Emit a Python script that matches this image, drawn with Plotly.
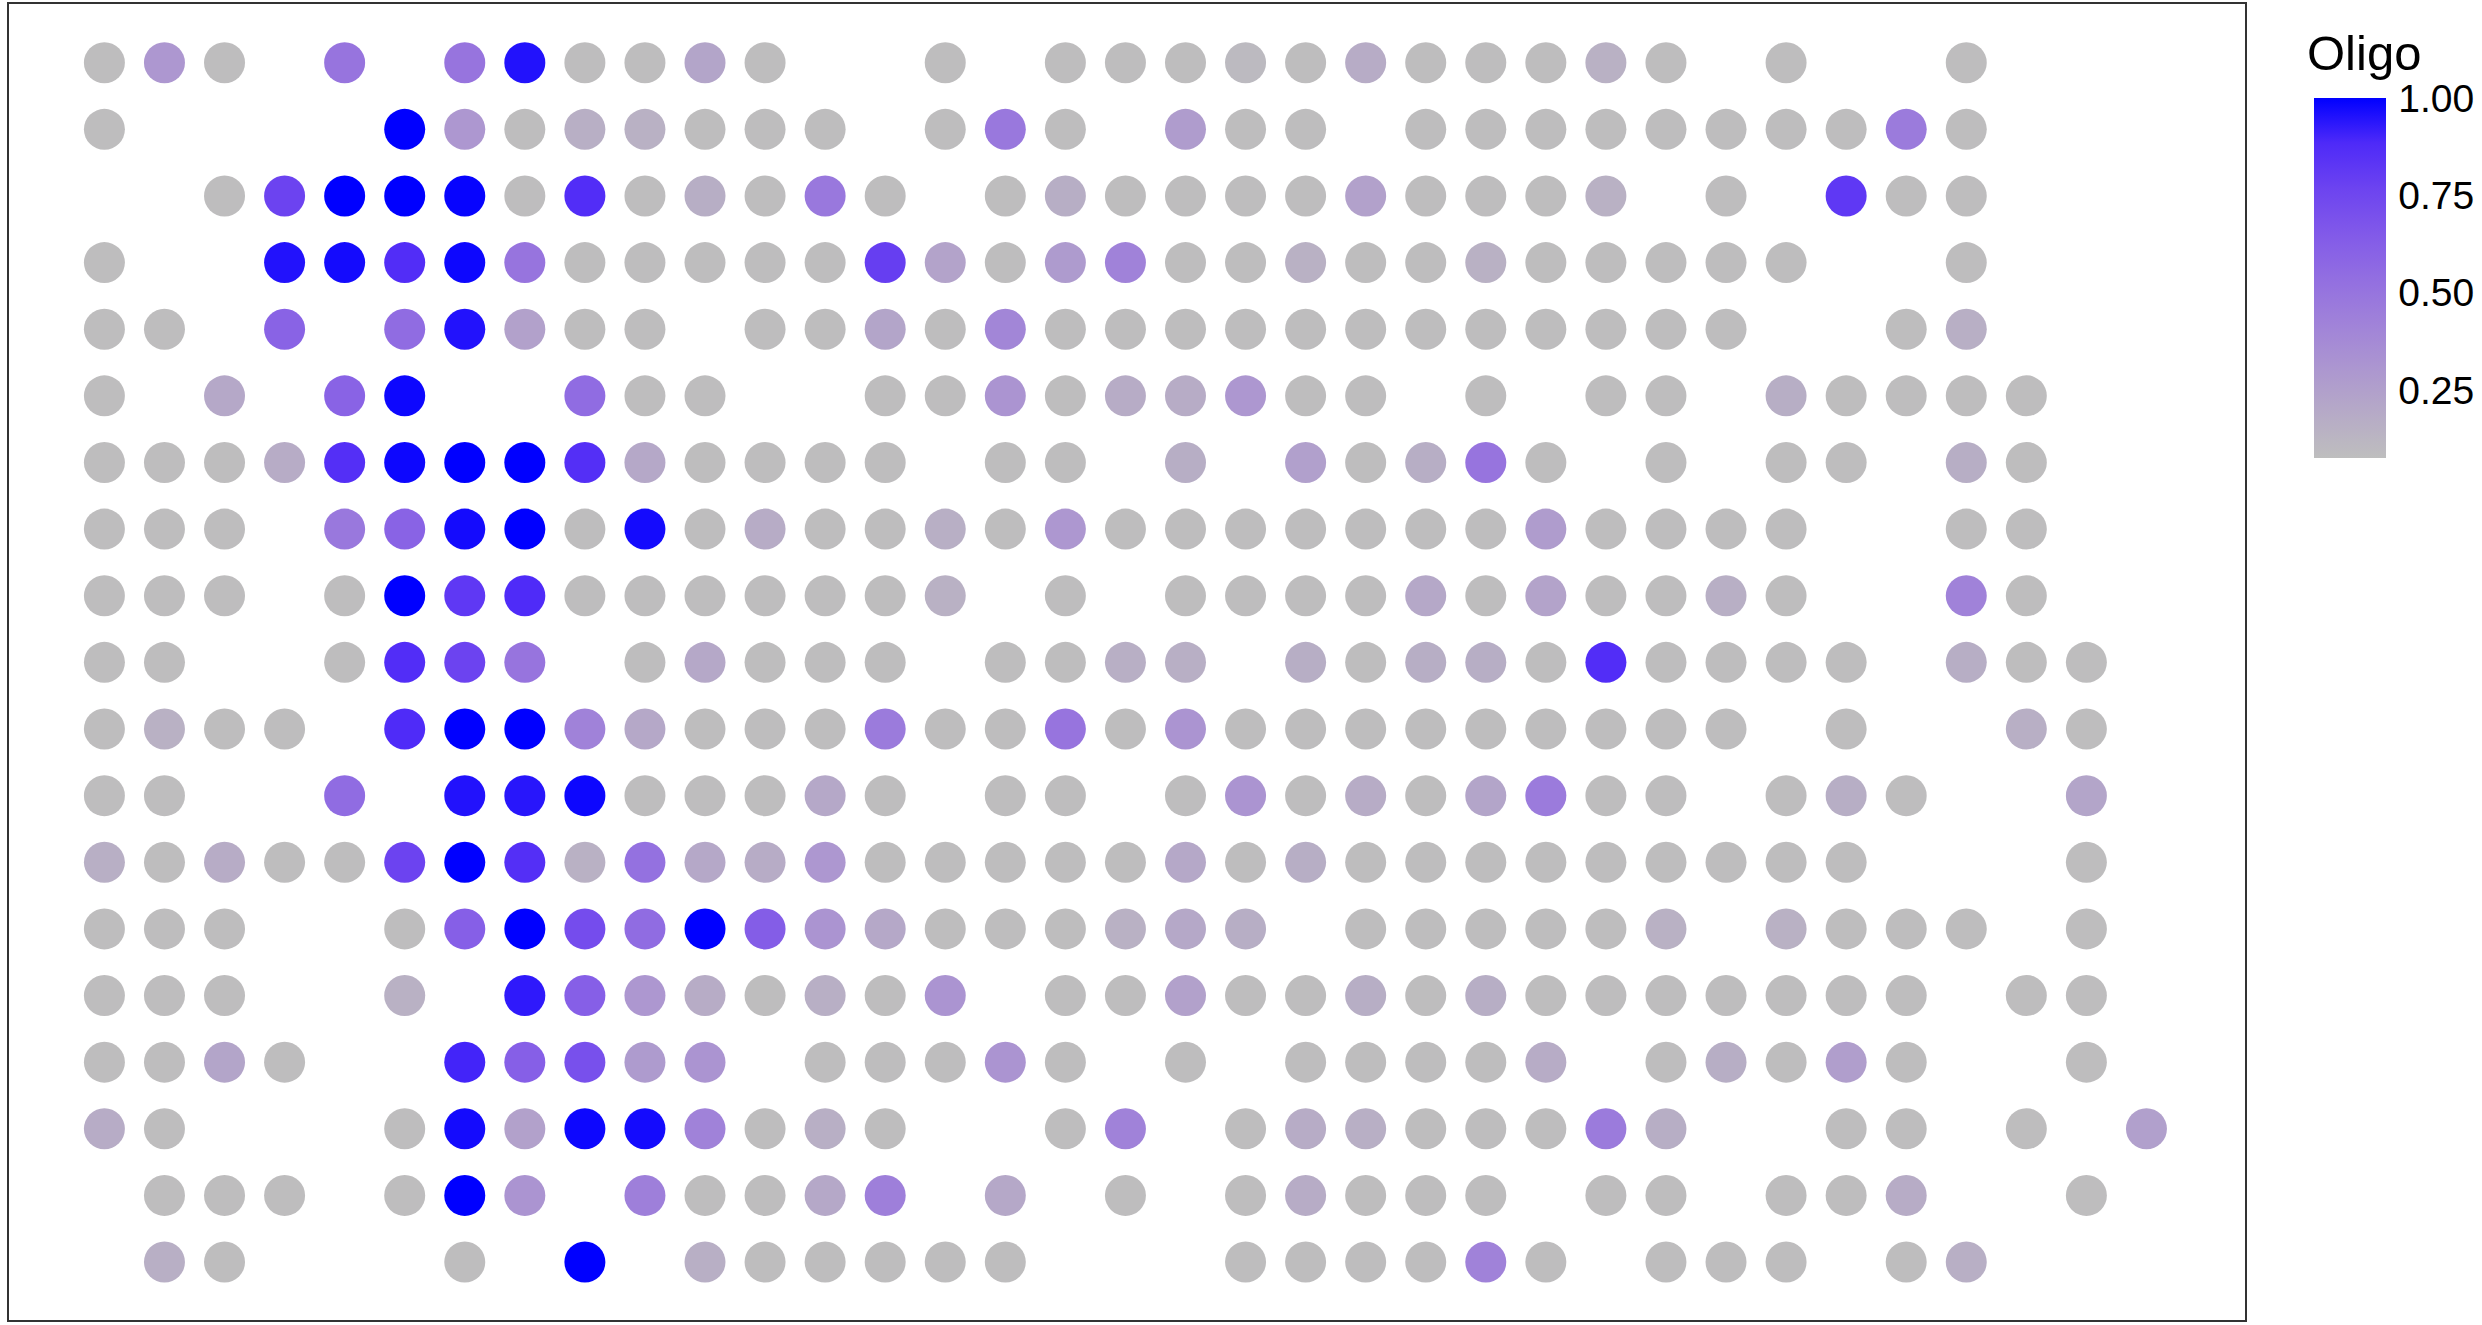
import plotly.graph_objects as go

_ = None
# Oligo score per spot, one list per grid row (top to bottom), 35 columns; None = no spot
row_00 = [.08, .30, .08, _, .50, _, .50, .95, .08, .08, .22, .08, _, _, .08, _, .08, .08, .08, .10, .08, .18, .08, .08, .08, .15, .08, _, .08, _, _, .08, _, _, _]
row_01 = [.08, _, _, _, _, 1.0, .30, .08, .16, .15, .08, .08, .08, _, .08, .48, .08, _, .27, .08, .08, _, .08, .08, .08, .08, .08, .08, .08, .08, .46, .08, _, _, _]
row_02 = [_, _, .08, .77, 1.0, 1.0, .99, .08, .87, .08, .17, .08, .48, .08, _, .08, .17, .08, .08, .08, .08, .24, .08, .08, .08, .15, _, .08, _, .82, .08, .08, _, _, _]
row_03 = [.08, _, _, .95, .97, .87, .98, .50, .08, .08, .08, .08, .08, .79, .23, .08, .28, .42, .08, .08, .15, .08, .08, .15, .08, .08, .08, .08, .08, _, _, .08, _, _, _]
row_04 = [.08, .08, _, .60, _, .55, .95, .24, .08, .08, _, .08, .08, .22, .08, .40, .08, .08, .08, .08, .08, .08, .08, .08, .08, .08, .08, .08, _, _, .08, .16, _, _, _]
row_05 = [.08, _, .20, _, .60, .98, _, _, .55, .08, .08, _, _, .08, .08, .32, .08, .18, .18, .30, .08, .08, _, .08, _, .08, .08, _, .17, .08, .08, .08, .08, _, _]
row_06 = [.08, .08, .08, .18, .86, .98, 1.0, 1.0, .86, .20, .08, .08, .08, .08, _, .08, .08, _, .17, _, .25, .08, .17, .50, .08, _, .08, _, .08, .08, _, .17, .08, _, _]
row_07 = [.08, .08, .08, _, .48, .60, .97, 1.0, .08, .97, .08, .18, .08, .08, .16, .08, .30, .08, .08, .08, .08, .08, .08, .08, .27, .08, .08, .08, .08, _, _, .08, .08, _, _]
row_08 = [.08, .08, .08, _, .08, 1.0, .82, .88, .08, .08, .08, .08, .08, .08, .15, _, .08, _, .08, .08, .08, .08, .20, .08, .23, .08, .08, .16, .08, _, _, .42, .08, _, _]
row_09 = [.08, .08, _, _, .08, .87, .77, .50, _, .08, .20, .08, .08, .08, _, .08, .08, .16, .16, _, .17, .08, .17, .17, .08, .87, .08, .08, .08, .08, _, .17, .08, .08, _]
row_10 = [.08, .15, .08, .08, _, .88, 1.0, 1.0, .42, .20, .08, .08, .08, .46, .08, .08, .50, .08, .32, .08, .08, .08, .08, .08, .08, .08, .08, .08, _, .08, _, _, .16, .08, _]
row_11 = [.08, .08, _, _, .55, _, .95, .94, .98, .08, .08, .08, .20, .08, _, .08, .08, _, .08, .32, .08, .18, .08, .22, .46, .08, .08, _, .08, .17, .08, _, _, .22, _]
row_12 = [.16, .08, .18, .08, .08, .77, 1.0, .86, .15, .52, .20, .18, .30, .08, .08, .08, .08, .08, .20, .08, .17, .08, .08, .08, .08, .08, .08, .08, .08, .08, _, _, _, .08, _]
row_13 = [.08, .08, .08, _, _, .08, .62, 1.0, .72, .55, 1.0, .63, .32, .20, .08, .08, .08, .15, .20, .17, _, .08, .08, .08, .08, .08, .15, _, .15, .08, .08, .08, _, .08, _]
row_14 = [.08, .08, .08, _, _, .15, _, .93, .62, .30, .18, .08, .16, .08, .32, _, .08, .08, .24, .08, .08, .17, .08, .17, .08, .08, .08, .08, .08, .08, .08, _, .08, .08, _]
row_15 = [.08, .08, .22, .08, _, _, .90, .62, .70, .28, .32, _, .08, .08, .08, .32, .08, _, .08, _, .08, .08, .08, .08, .18, _, .08, .17, .08, .26, .08, _, _, .08, _]
row_16 = [.18, .08, _, _, _, .08, .97, .24, .98, .97, .42, .08, .16, .08, _, _, .08, .42, _, .08, .18, .16, .08, .08, .08, .46, .17, _, _, .08, .08, _, .08, _, .25]
row_17 = [_, .08, .08, .08, _, .08, 1.0, .32, _, .44, .08, .08, .20, .44, _, .20, _, .08, _, .08, .18, .08, .08, .08, _, .08, .08, _, .08, .08, .18, _, _, .08, _]
row_18 = [_, .16, .08, _, _, _, .08, _, 1.0, _, .16, .08, .08, .08, .08, .08, _, _, _, .08, .08, .08, .08, .42, .08, _, .08, .08, .08, _, .08, .16, _, _, _]

rows = [row_00, row_01, row_02, row_03, row_04, row_05, row_06, row_07, row_08, row_09,
        row_10, row_11, row_12, row_13, row_14, row_15, row_16, row_17, row_18]

colorbar_ticks = [0.25, 0.50, 0.75, 1.00]
colorbar_labels = ["0.25", "0.50", "0.75", "1.00"]
oligo_min, oligo_max = 0.075, 1.0

xs, ys, vals = [], [], []
for r, row in enumerate(rows):
    for c, v in enumerate(row):
        if v is not None:
            xs.append(c)
            ys.append(r)
            vals.append(v)

# grey -> blue gradient interpolated in CIELAB (as ggplot2 does)
colorscale = [
    [0.000, "#BEBEBE"], [0.125, "#B6AAC7"], [0.250, "#AC96D0"], [0.375, "#A082D9"],
    [0.500, "#926EE1"], [0.625, "#8159E9"], [0.750, "#6C43F0"], [0.875, "#4E2AF8"],
    [1.000, "#0000FF"],
]

font = "Liberation Sans, Arial, sans-serif"
W, H = 2482, 1325
ml, mr, mt, mb = 8, 236, 3, 4
pw, ph = W - ml - mr, H - mt - mb

def px_x(x):  # page pixel -> paper x
    return (x - ml) / pw

def px_y(y):  # page pixel (from top) -> paper y
    return (H - mb - y) / ph

fig = go.Figure(go.Scatter(
    x=xs, y=ys, mode="markers",
    marker=dict(
        size=41, color=vals, colorscale=colorscale, cmin=oligo_min, cmax=oligo_max,
        line=dict(width=0),
        colorbar=dict(
            tickvals=colorbar_ticks, ticktext=colorbar_labels,
            tickfont=dict(family=font, size=39, color="black"),
            ticks="outside", ticklen=5, tickcolor="rgba(0,0,0,0)", outlinewidth=0,
            thickness=72, thicknessmode="pixels",
            len=360, lenmode="pixels",
            x=px_x(2314), xanchor="left", xpad=0,
            y=px_y(98), yanchor="top", ypad=0,
        ),
    ),
    hoverinfo="skip",
))

col0, colspace = 104.4, 60.06
row0, rowspace = 62.7, 66.63
fig.update_layout(
    width=W, height=H,
    margin=dict(l=ml, r=mr, t=mt, b=mb, pad=0),
    paper_bgcolor="white", plot_bgcolor="white",
    showlegend=False,
    xaxis=dict(range=[(ml - col0) / colspace, (W - mr - col0) / colspace],
               showgrid=False, zeroline=False, showticklabels=False, ticks=""),
    yaxis=dict(range=[(H - mb - row0) / rowspace, (mt - row0) / rowspace],
               showgrid=False, zeroline=False, showticklabels=False, ticks=""),
    shapes=[dict(type="rect", xref="paper", yref="paper", x0=0, x1=1, y0=0, y1=1,
                 line=dict(color="#333333", width=2))],
    annotations=[dict(text="Oligo", xref="paper", yref="paper",
                      x=px_x(2305), y=px_y(53), xanchor="left", yanchor="middle",
                      showarrow=False, font=dict(family=font, size=49, color="black"))],
)

fig.write_html(
    "out.html", config={"displayModeBar": False},
    post_script="document.body.style.margin='0';"
                "document.body.style.overflow='hidden';"
                "document.documentElement.style.overflow='hidden';",
)
